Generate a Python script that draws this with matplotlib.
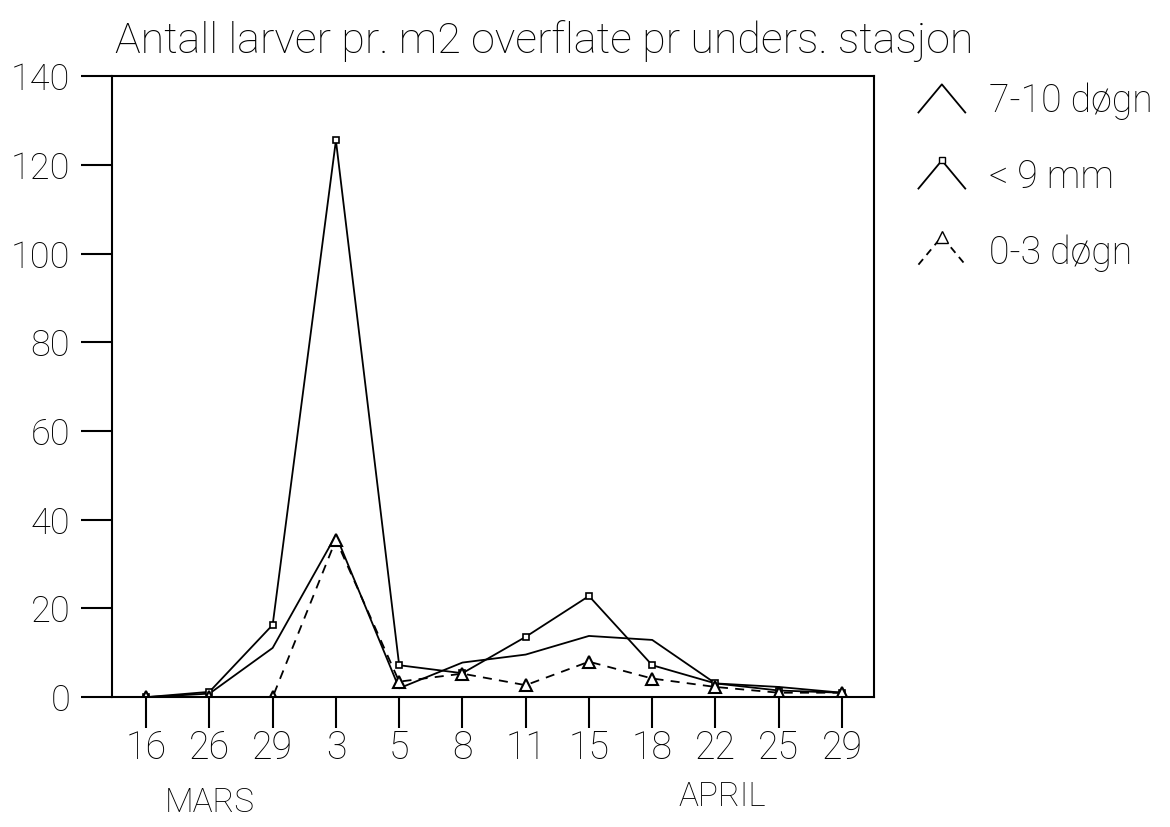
import matplotlib
matplotlib.use("Agg")
import matplotlib.pyplot as plt
from matplotlib.lines import Line2D

plt.rcParams['font.family'] = ['Roboto', 'DejaVu Sans']
plt.rcParams['font.weight'] = 'light'

# dates of sampling (index positions on the x axis)
days = ['16', '26', '29', '3', '5', '8', '11', '15', '18', '22', '25', '29']

# larvae per m2
dogn_7_10 = [0, 0.8, 11.1, 36.5, 2.0, 7.8, 9.6, 13.8, 12.9, 3.1, 2.3, 1.0]
under_9mm = [0, 1.2, 16.3, 125.5, 7.2, 5.4, 13.6, 22.8, 7.2, 3.1, 1.5, 1.0]
dogn_0_3 = [0, 0, 0, 35.5, 3.5, 5.3, 2.7, 8.0, 4.2, 2.3, 1.0, 1.0]

x = list(range(len(days)))

fig = plt.figure(figsize=(11.7, 8.27), dpi=100)
ax = fig.add_axes([0.0957, 0.157, 0.651, 0.751])

ax.plot(x, dogn_7_10, color='black', lw=1.3)
ax.plot(x, under_9mm, color='black', lw=1.3, marker='s', ms=4,
        mfc='white', mec='black', mew=1.2)
ax.plot(x, dogn_0_3, color='black', lw=1.3, ls=(0, (5, 4)), marker='^', ms=9,
        mfc='white', mec='black', mew=1.5)

ax.set_xlim(-0.54, 11.5)
ax.set_ylim(0, 140)
ax.set_yticks(range(0, 141, 20))
ax.set_xticks(x)
ax.set_xticklabels(days)

for s in ax.spines.values():
    s.set_linewidth(1.5)
ax.tick_params(axis='both', direction='out', length=22, width=1.5,
               labelsize=27, colors='black')
ax.tick_params(axis='x', pad=1)
ax.tick_params(axis='y', pad=8, labelsize=26)

tr = ax.get_xaxis_transform()
ax.text(1, -0.17, 'MARS', transform=tr, ha='center', va='center', fontsize=24)
ax.text(9.1, -0.16, 'APRIL', transform=tr, ha='center', va='center', fontsize=24)

fig.text(0.098, 0.950, 'Antall larver pr. m2 overflate pr unders. stasjon',
         ha='left', va='center', fontsize=31)

# legend drawn by hand, chevron symbols like the original
labels = ['7-10 døgn', '< 9 mm', '0-3 døgn']
styles = ['-', '-', (0, (4, 3))]
ys = [0.898, 0.806, 0.714]
for lab, st, yy in zip(labels, styles, ys):
    fig.add_artist(Line2D([0.785, 0.805, 0.825], [yy - 0.034, yy, yy - 0.034],
                          color='black', lw=1.3, ls=st, transform=fig.transFigure))
    fig.text(0.845, yy - 0.020, lab, ha='left', va='center', fontsize=27)
fig.add_artist(Line2D([0.805], [0.806], marker='s', ms=4, mfc='white',
                      mec='black', transform=fig.transFigure, color='black'))
fig.add_artist(Line2D([0.805], [0.714], marker='^', ms=8, mfc='white',
                      mec='black', transform=fig.transFigure, color='black'))

fig.savefig('out.png', dpi=100)
